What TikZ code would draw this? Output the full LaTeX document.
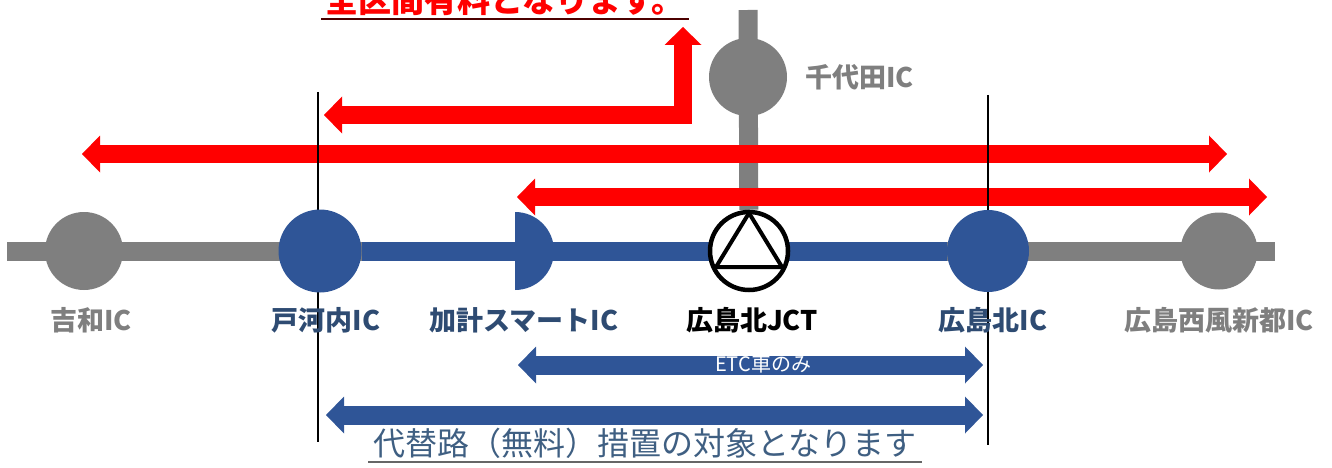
\documentclass[tikz,border=0pt]{standalone}
\usepackage{fontspec}
\setmainfont{Noto Sans CJK JP}
\usetikzlibrary{positioning, arrows.meta, backgrounds}
\definecolor{roadgray}{HTML}{7F7F7F}
\definecolor{roadblue}{HTML}{2F5597}
\definecolor{tollred}{HTML}{FF0000}
\definecolor{lblblue}{HTML}{2E4B72}
\definecolor{notegray}{HTML}{3F5F82}

\begin{document}
\begin{tikzpicture}[x=1pt,y=-1pt,node distance=69pt,on grid]
\tikzstyle{ic}=[circle,inner sep=0pt,minimum size=78pt]
\tikzstyle{lbl}=[inner sep=0pt,font=\fontsize{27}{30}\selectfont\bfseries]
\tikzstyle{road}=[line width=19pt]
\tikzstyle{endline}=[line width=2.8pt]
\tikzstyle{wide}=[line width=18pt,
  {Triangle[length=18pt,width=37pt,line width=0pt]}-{Triangle[length=18pt,width=37pt,line width=0pt]}]

  \useasboundingbox (0,0) rectangle (1332,468);

  %--- stations ---
  \node[ic, fill=roadgray] (yoshiwa) at (84,251) {};
  \node[ic, fill=roadblue, minimum size=83pt] (togouchi) at (320,251) {};
  \coordinate (kake) at (515,251);
  \node[ic, draw=black, line width=4.5pt, fill=white] (jct) at (749,251) {};
  \node[ic, fill=roadblue, minimum size=82pt] (kitaic) at (988,251) {};
  \node[ic, fill=roadgray, minimum size=77pt] (seifu) at (1219,251) {};
  \node[ic, fill=roadgray] (chiyoda) at (748,77) {};

  \fill[roadblue] ([yshift=39pt]kake) arc[start angle=90, end angle=-90, radius=39pt] -- cycle;
  \draw[line width=4pt, line join=round]
    ([yshift=38pt]jct.center) -- ([xshift=-33pt,yshift=-16pt]jct.center)
    -- ([xshift=33pt,yshift=-16pt]jct.center) -- cycle;

  %--- ends of roads and arrows ---
  \coordinate (west) at (7,251);
  \coordinate (east) at (1275,251);
  \coordinate (north) at (748,10);
  \coordinate (r1w) at (82,154);   \coordinate (r1e) at (1227,154);
  \coordinate (r2w) at (517,197);  \coordinate (r2e) at (1267,197);
  \coordinate (r3w) at (324,115);  \coordinate (r3n) at (683,27);
  \coordinate (b1w) at (518,365);  \coordinate (b1e) at (983,365);
  \coordinate (b2w) at (326,415);  \coordinate (b2e) at (983,415);
  \coordinate (m1t) at (318,92);   \coordinate (m1b) at (318,442);
  \coordinate (m2t) at (988,95);   \coordinate (m2b) at (988,445);

  %--- roads, toll arrows ---
  \begin{pgfonlayer}{background}
    \draw[road, roadgray] (west) -- (east);
    \draw[road, roadgray] (north) -- (jct);
    \draw[road, roadblue] (togouchi) -- (kitaic);
    \draw[wide, tollred] (r1w) -- (r1e);
    \draw[wide, tollred] (r2w) -- (r2e);
    \draw[wide, tollred] (r3w) -| (r3n);
    \draw[endline] (m1t) -- (m1b);
    \draw[endline] (m2t) -- (m2b);
  \end{pgfonlayer}

  %--- labels ---
  \node[lbl, text=roadgray] (yoshiwa-l) [below=69pt of yoshiwa, xshift=7pt] {吉和IC};
  \node[lbl, text=lblblue] (togouchi-l) [below=69pt of togouchi, xshift=6pt] {戸河内IC};
  \node[lbl, text=lblblue] (kake-l) at (524,320) {加計スマートIC};
  \node[lbl, text=black] (jct-l) [below=69pt of jct, xshift=3pt] {広島北JCT};
  \node[lbl, text=lblblue] (kitaic-l) [below=69pt of kitaic, xshift=5pt] {広島北IC};
  \node[lbl, text=roadgray] (seifu-l) [below=69pt of seifu] {広島西風新都IC};
  \node[lbl, text=roadgray, anchor=west] (chiyoda-l) at (805,77) {千代田IC};

  %--- free section ---
  \draw[wide, roadblue, line width=19pt] (b1w) -- (b1e);
  \draw[wide, roadblue, line width=19pt] (b2w) -- (b2e);
  \node[inner sep=0pt, text=white, font=\fontsize{20}{22}\selectfont] (etc) at (763,364) {ETC車のみ};

  %--- notes ---
  \node[inner sep=0pt, anchor=base, text=tollred, font=\fontsize{33}{36}\selectfont\bfseries]
    (toll) at (505,13) {全区間有料となります。};
  \draw[line width=1.5pt, draw=black!70!red] ([xshift=-4pt,yshift=-6pt]toll.base west) -- ([xshift=4pt,yshift=-6pt]toll.base east);
  \node[inner sep=0pt, anchor=base, text=notegray, font=\fontsize{32}{36}\selectfont]
    (free) at (645,455) {代替路（無料）措置の対象となります};
  \draw[line width=1.2pt, draw=black!60] ([xshift=-5pt,yshift=-7pt]free.base west) -- ([xshift=5pt,yshift=-7pt]free.base east);
\end{tikzpicture}
\end{document}
